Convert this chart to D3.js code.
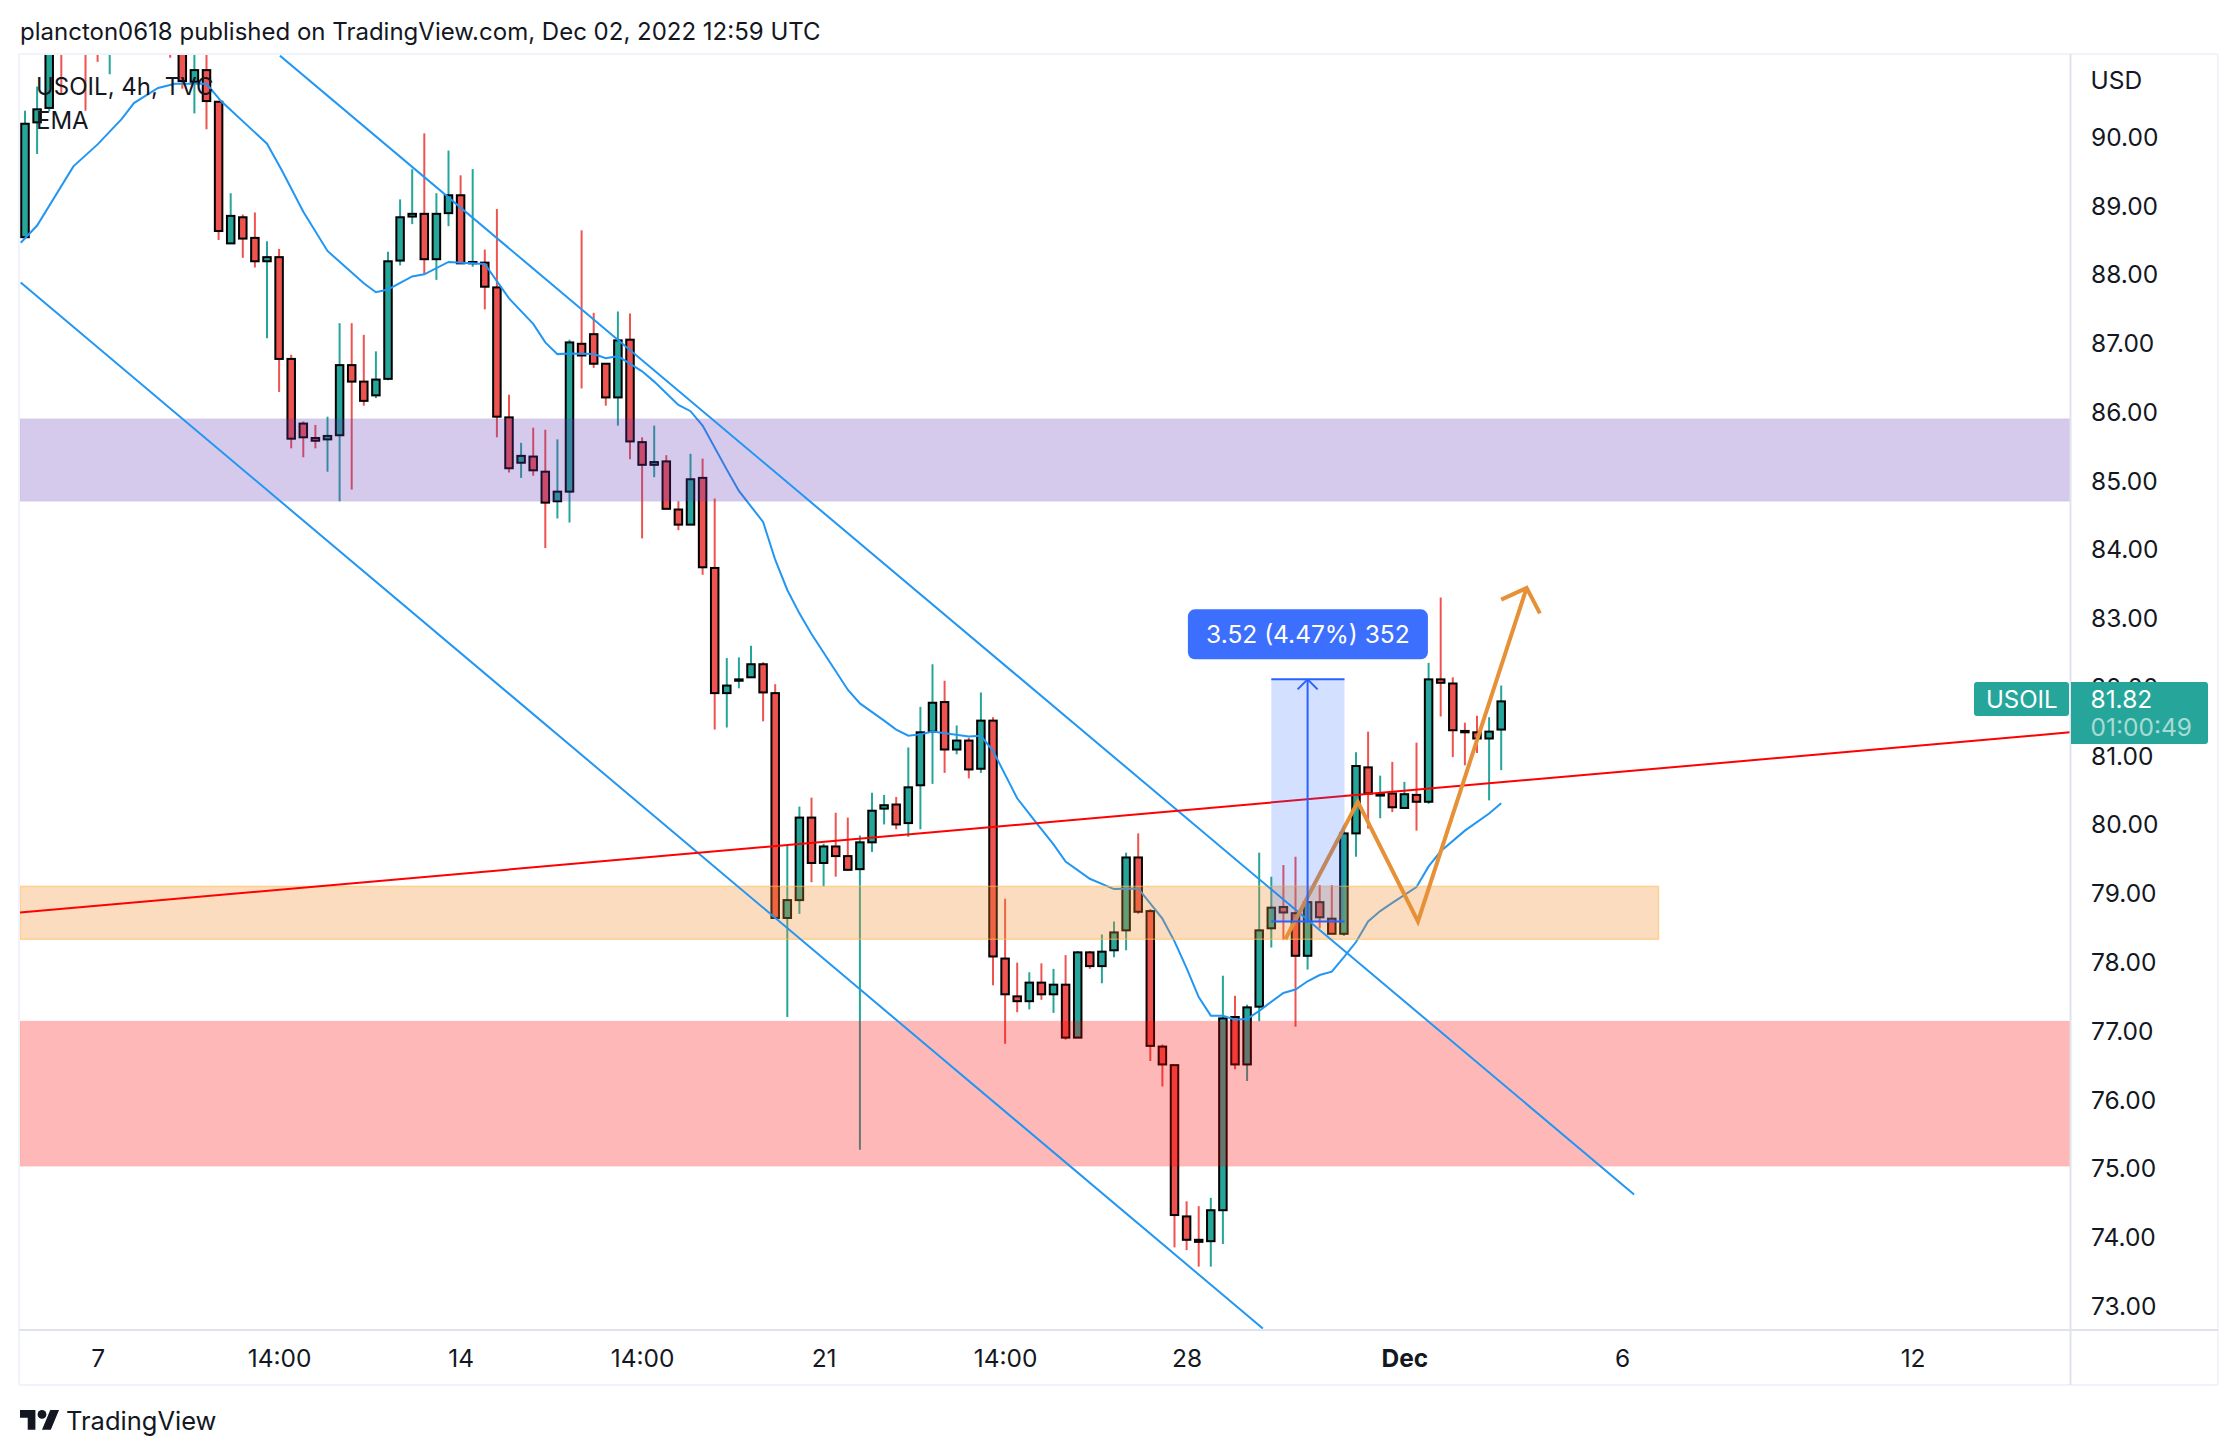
<!DOCTYPE html>
<html><head><meta charset="utf-8">
<script src="https://cdn.jsdelivr.net/npm/d3@7/dist/d3.min.js"></script>
<style>html,body{margin:0;padding:0;background:#fff}svg{display:block}text{font-family:Inter,"Liberation Sans",sans-serif;fill:#131722}</style>
</head><body><script>
const opens=[88.55,90.22,90.43,91.90,91.90,92.30,92.00,91.70,92.00,92.30,92.10,92.30,92.10,91.70,90.81,90.98,90.52,88.46,88.84,88.54,88.20,88.26,86.78,85.84,85.63,85.61,85.67,86.69,86.45,86.25,86.49,88.21,88.85,88.89,88.23,88.90,89.16,88.17,88.18,87.82,85.93,85.27,85.36,85.14,84.71,84.85,87.00,87.14,86.71,86.22,87.06,85.57,85.24,85.29,84.59,84.37,85.05,83.74,81.92,82.10,82.15,82.34,81.92,78.65,78.91,80.11,79.45,79.69,79.55,79.36,79.75,80.24,80.30,80.03,80.58,81.36,81.79,81.10,81.23,80.82,81.52,78.06,77.51,77.44,77.71,77.54,77.68,76.91,78.15,77.95,78.18,78.47,79.53,78.75,76.78,76.51,74.31,73.97,73.95,74.40,77.21,76.52,77.36,78.50,78.81,78.72,78.10,78.88,78.64,78.42,79.88,80.84,80.43,80.46,80.25,80.44,80.34,82.12,82.06,81.37,81.35,81.26,81.39];
const closes=[90.20,90.41,91.60,91.50,92.10,92.00,91.70,92.00,92.30,92.10,92.30,92.10,91.70,90.82,90.98,90.53,88.64,88.86,88.53,88.20,88.26,86.78,85.62,85.64,85.59,85.66,86.69,86.45,86.17,86.48,88.20,88.84,88.89,88.23,88.89,89.16,88.17,88.19,87.83,85.94,85.19,85.37,85.16,84.69,84.85,87.02,86.83,86.71,86.22,87.05,85.58,85.24,85.28,84.60,84.37,85.03,83.75,81.92,82.03,82.12,82.34,81.93,78.65,78.91,80.11,79.45,79.69,79.55,79.35,79.75,80.21,80.29,80.01,80.55,81.35,81.78,81.10,81.23,80.81,81.52,78.09,77.54,77.44,77.71,77.54,77.68,76.91,78.15,77.95,78.16,78.44,79.53,78.74,76.79,76.52,74.33,73.97,73.94,74.40,77.19,76.52,77.35,78.47,78.80,78.73,78.10,78.88,78.66,78.42,79.88,80.86,80.46,80.45,80.26,80.45,80.34,82.12,82.07,81.38,81.35,81.26,81.36,81.80];
const highs=[90.39,90.74,91.90,92.20,92.40,92.50,92.30,92.30,92.60,92.50,92.60,92.60,92.40,92.00,91.40,91.40,90.52,89.19,88.88,88.91,88.49,88.38,86.84,85.87,85.82,85.94,87.30,87.30,87.13,86.89,88.34,89.10,89.54,90.06,89.19,89.81,89.45,89.54,88.37,88.96,86.26,85.56,85.78,85.75,85.61,87.06,88.65,87.45,86.71,87.47,87.44,85.64,85.81,85.38,84.71,85.40,85.33,84.75,82.43,82.44,82.61,82.37,82.05,79.70,80.27,80.40,79.73,80.18,80.11,79.85,80.47,80.44,80.41,81.13,81.72,82.34,82.10,81.45,81.27,81.93,81.57,78.93,78.00,77.86,77.99,77.91,78.11,78.17,78.17,78.41,78.60,79.60,79.88,78.78,76.81,76.51,74.53,74.46,74.58,77.81,77.52,77.39,79.60,79.25,79.42,79.54,78.88,79.13,79.13,80.00,81.06,81.36,80.72,80.92,80.63,81.20,82.36,83.31,82.15,81.49,81.59,81.57,82.03];
const lows=[88.55,89.76,90.38,90.62,91.40,90.39,91.10,90.92,91.50,91.60,91.70,91.60,91.16,90.71,90.35,90.12,88.51,88.46,88.25,88.11,87.08,86.30,85.48,85.35,85.48,85.14,84.71,84.88,86.10,86.21,86.47,88.14,88.74,88.01,87.93,88.71,88.17,88.12,87.50,85.64,85.13,85.05,85.08,84.03,84.46,84.40,86.35,86.65,86.10,85.81,85.32,84.17,85.06,84.60,84.29,84.37,83.64,81.39,81.42,81.99,82.15,81.51,78.65,77.21,78.71,79.17,79.11,79.25,79.34,75.28,79.61,80.01,79.94,79.83,79.94,80.60,80.76,81.03,80.68,80.76,77.67,76.82,77.28,77.32,77.46,77.27,76.88,76.91,77.91,77.70,78.08,78.18,78.71,76.57,76.20,73.86,73.82,73.58,73.58,73.91,76.45,76.28,77.15,78.22,78.33,77.07,77.90,78.50,78.42,78.39,79.54,79.95,80.10,80.19,80.24,79.92,80.31,81.58,80.99,80.87,81.05,80.36,80.80];
const emaIndex=[-0.35,1,4,6,8,9,11,12.4,15,16.2,20,21.2,23,25,28,29,30,32,33,35,38,40,42,43,44,45,47,48,49,51,52,54,55,56,58,59,61,62,63,64,65,68,69,71,72,73,74,75,78,79,80,82,83.6,85,86,88,90,92,94,95,96,97,98,99,100,101,102,104,105,106,107,108,109,110,111,112,113,115,116,117,119,121,122];
const emaPrice=[88.47,88.72,89.58,89.90,90.27,90.50,90.72,90.78,90.78,90.53,89.91,89.53,88.92,88.35,87.88,87.75,87.79,87.98,88.01,88.19,88.16,87.66,87.29,87.02,86.85,86.86,86.85,86.79,86.82,86.60,86.45,86.11,86.02,85.81,85.17,84.86,84.41,83.86,83.42,83.08,82.78,81.97,81.77,81.52,81.39,81.30,81.32,81.36,81.29,81.30,81.08,80.39,80.03,79.72,79.47,79.22,79.07,79.08,78.64,78.31,77.92,77.50,77.23,77.23,77.17,77.18,77.30,77.56,77.61,77.73,77.82,77.87,78.08,78.30,78.60,78.75,78.87,79.10,79.40,79.62,79.92,80.17,80.32];
const channelUpperIndex=[21.07,132.98], channelUpperPrice=[91.19,74.63];
const channelLowerIndex=[-0.355,102.3], channelLowerPrice=[87.89,72.68];
const redLineIndex=[-0.41,169], redLinePrice=[78.73,81.35];
const zigzagIndex=[104.16,110.15,115.12,124.1], zigzagPrice=[78.34,80.34,78.60,83.45];
const arrowHeadIndex=[122.0,124.1,125.2], arrowHeadPrice=[83.28,83.45,83.08];
const purpleZone=[84.71,85.91], orangeZone=[78.34,79.11], redZone=[75.04,77.15];
const orangeEndIndex=135;
const measureIndex=[103,109.05,106], measurePrice=[78.60,82.12];
const priceTicks=[73,74,75,76,77,78,79,80,81,82,83,84,85,86,87,88,89,90];
const timeTickIndex=[6,21,36,51,66,81,96,114,132,156];
const timeTickLabels=["7","14:00","14","14:00","21","14:00","28","Dec","6","12"];
const lastPrice="81.82", countdown="01:00:49", symbol="USOIL", currency="USD";
const titleText="plancton0618 published on TradingView.com, Dec 02, 2022 12:59 UTC";
const legendLines=["USOIL, 4h, TVC","EMA"];
const measureText="3.52 (4.47%) 352";

const W=2238,H=1454,L=20,R=2071,T=55,B=1329,OR=2218,OB=1385;
const x=d3.scaleLinear().domain([0,122]).range([25,25+122*12.1]);
const y=d3.scaleLinear().domain([73,90]).range([1306.5,137.5]);
const GREEN="#26a69a",REDC="#ef5350",FONT=24.5;
const svg=d3.select("body").append("svg").attr("width",W).attr("height",H).attr("viewBox",`0 0 ${W} ${H}`);
svg.append("defs").append("clipPath").attr("id","plot").append("rect").attr("x",L).attr("y",T).attr("width",R-L).attr("height",B-T);
svg.append("rect").attr("width",W).attr("height",H).attr("fill","#fff");

svg.append("text").attr("x",20).attr("y",40).attr("font-size",24).text(titleText);

const plot=svg.append("g").attr("clip-path","url(#plot)");
const idx=d3.range(opens.length);
plot.append("g").selectAll("line").data(idx).join("line")
 .attr("x1",i=>x(i)).attr("x2",i=>x(i)).attr("y1",i=>y(highs[i])).attr("y2",i=>y(lows[i]))
 .attr("stroke",i=>closes[i]>=opens[i]?GREEN:REDC).attr("stroke-width",2);
plot.append("g").selectAll("rect").data(idx).join("rect")
 .attr("x",i=>x(i)-3.75).attr("width",7.5)
 .attr("y",i=>y(Math.max(opens[i],closes[i])))
 .attr("height",i=>Math.abs(y(opens[i])-y(closes[i])))
 .attr("fill",i=>closes[i]>=opens[i]?GREEN:REDC).attr("stroke","#000").attr("stroke-width",2);

const lineXY=d3.line().x(d=>x(d[0])).y(d=>y(d[1]));
plot.append("path").datum(emaIndex.map((v,i)=>[v,emaPrice[i]])).attr("d",lineXY).attr("fill","none").attr("stroke","#2196f3").attr("stroke-width",2);

function zone(v,x2,fill,border){
 const r=plot.append("rect").attr("x",L).attr("width",x2-L).attr("y",y(v[1])).attr("height",y(v[0])-y(v[1])).attr("fill",fill);
 if(border)r.attr("stroke",border).attr("stroke-width",1.5);
}
zone(purpleZone,R,"rgba(103,58,183,0.27)","rgba(103,58,183,0.05)");
zone(orangeZone,x(orangeEndIndex),"rgba(242,140,40,0.30)","rgba(255,190,80,0.55)");
zone(redZone,R,"rgba(255,0,0,0.28)","rgba(255,0,0,0.05)");

function seg(ix,px,color,w){
 plot.append("path").datum(ix.map((v,i)=>[v,px[i]])).attr("d",lineXY).attr("fill","none").attr("stroke",color).attr("stroke-width",w).attr("stroke-linejoin","miter");
}
seg(channelUpperIndex,channelUpperPrice,"#2196f3",2);
seg(channelLowerIndex,channelLowerPrice,"#2196f3",2);
seg(redLineIndex,redLinePrice,"#ff0000",2);
seg(zigzagIndex,zigzagPrice,"#e69138",4);
seg(arrowHeadIndex,arrowHeadPrice,"#e69138",4);

// measure tool
const mx0=x(measureIndex[0]),mx1=x(measureIndex[1]),mc=x(measureIndex[2]),my0=y(measurePrice[0]),my1=y(measurePrice[1]);
plot.append("rect").attr("x",mx0).attr("width",mx1-mx0).attr("y",my1).attr("height",my0-my1).attr("fill","rgba(41,98,255,0.2)");
const BL="#2962ff";
[[mx0,my0,mx1,my0],[mx0,my1,mx1,my1],[mc,my0,mc,my1],[mc-10,my1+10,mc,my1],[mc+10,my1+10,mc,my1]].forEach(a=>{
 plot.append("line").attr("x1",a[0]).attr("y1",a[1]).attr("x2",a[2]).attr("y2",a[3]).attr("stroke",BL).attr("stroke-width",2);
});
const boxCx=(mx0+mx1)/2;
svg.append("rect").attr("x",boxCx-120).attr("y",my1-70).attr("width",240).attr("height",50).attr("rx",7).attr("fill","#3d6fff");
svg.append("text").attr("x",boxCx).attr("y",my1-45).attr("text-anchor","middle").attr("dominant-baseline","central").attr("font-size",FONT).style("fill","#fff").text(measureText);

// legend
legendLines.forEach((t,i)=>svg.append("text").attr("x",36).attr("y",95+i*34).attr("font-size",24).text(t));

// borders
const border=(a,b,c,d,col)=>svg.append("line").attr("x1",a).attr("y1",b).attr("x2",c).attr("y2",d).attr("stroke",col).attr("stroke-width",2);
border(L-1,T-1,OR,T-1,"#f0f3fa");
border(L-1,T-1,L-1,OB,"#f0f3fa");
border(OR,T-1,OR,OB,"#f0f3fa");
border(L-1,OB,OR,OB,"#f0f3fa");
border(R-0.5,T-1,R-0.5,OB,"#e0e3eb");
border(L-1,B+1,OR,B+1,"#e0e3eb");

// axes
const yAxis=d3.axisRight(y).tickValues(priceTicks).tickFormat(d3.format(".2f")).tickSize(0).tickPadding(19);
const gy=svg.append("g").attr("transform",`translate(${R+1},0)`).call(yAxis);
gy.select(".domain").remove();
gy.selectAll("text").attr("font-size",FONT).style("font-family","Inter");
svg.append("text").attr("x",2090.5).attr("y",89).attr("font-size",FONT).text(currency);

const xAxis=d3.axisBottom(x).tickValues(timeTickIndex).tickFormat((d,i)=>timeTickLabels[i]).tickSize(0).tickPadding(0);
const gx=svg.append("g").attr("transform",`translate(0,1350)`).call(xAxis);
gx.select(".domain").remove();
gx.selectAll("text").attr("font-size",FONT).style("font-family","Inter").attr("font-weight",(d,i)=>timeTickLabels[i]==="Dec"?700:400);

// last price tag
svg.append("rect").attr("x",1974).attr("y",682).attr("width",95).attr("height",34).attr("rx",3).attr("fill",GREEN);
svg.append("path").attr("d","M2071 682H2205a3 3 0 0 1 3 3V741a3 3 0 0 1-3 3H2071Z").attr("fill",GREEN);
svg.append("text").attr("x",1986).attr("y",708).attr("font-size",24).style("fill","#fff").text(symbol);
svg.append("text").attr("x",2090.5).attr("y",708).attr("font-size",FONT).style("fill","#fff").text(lastPrice);
svg.append("text").attr("x",2090.5).attr("y",736).attr("font-size",FONT).style("fill","rgba(255,255,255,0.62)").text(countdown);

// footer logo
const logo=svg.append("g").attr("transform","translate(20,1405.6) scale(1.1)");
logo.append("path").attr("d","M14 22H7V11H0V4h14v18zM28 22h-8l7.5-18h8L28 22z").attr("fill","#131722");
logo.append("circle").attr("cx",20).attr("cy",8).attr("r",4).attr("fill","#131722");
svg.append("text").attr("x",66).attr("y",1430).attr("font-size",25.5).text("TradingView");
</script></body></html>
